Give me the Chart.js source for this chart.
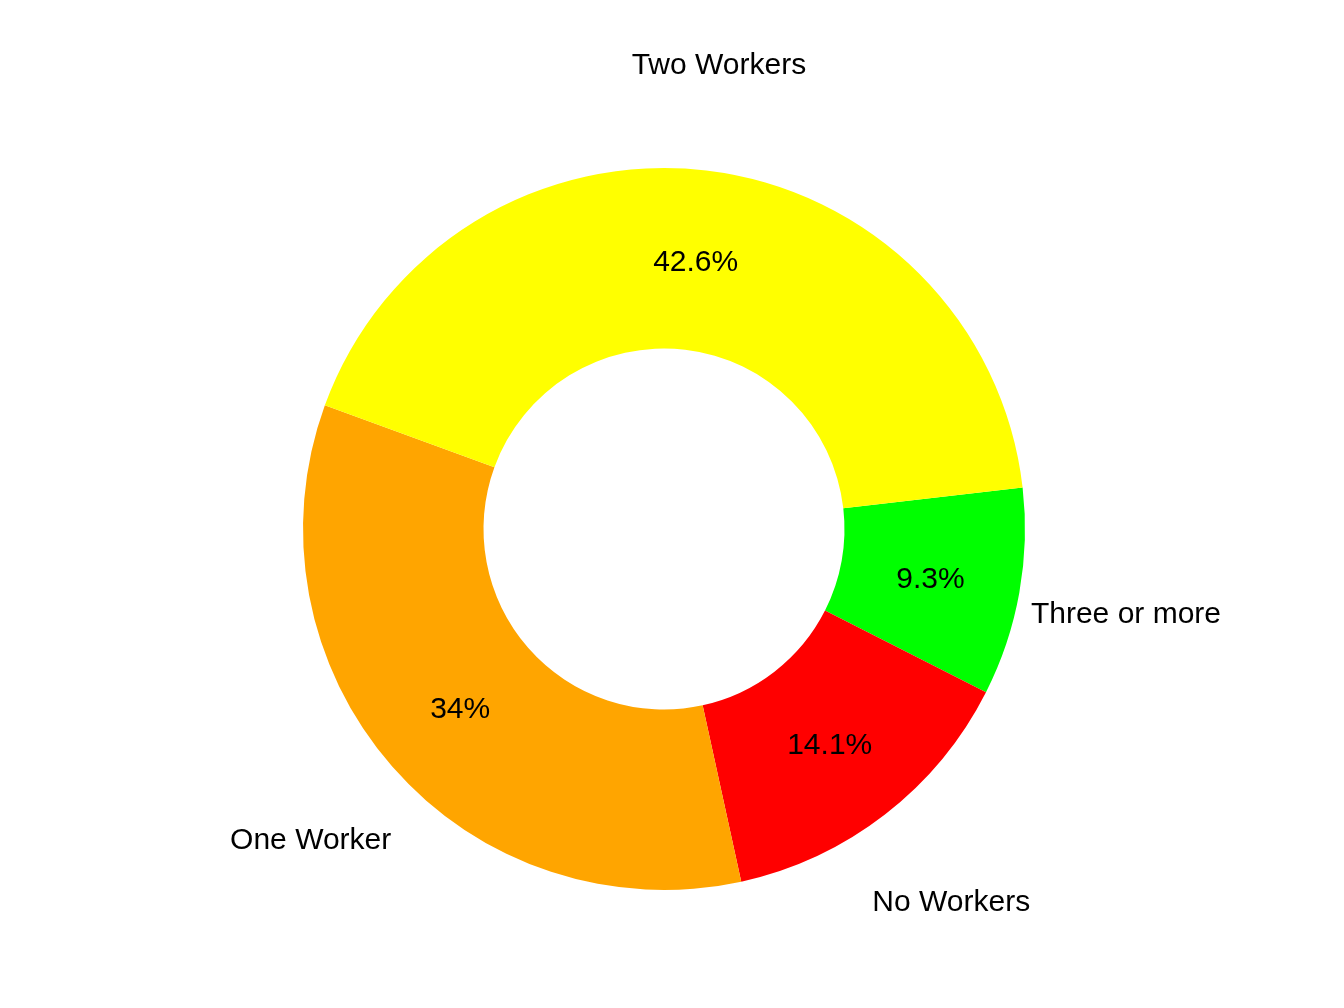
<!DOCTYPE html>
<html>
<head>
<meta charset="utf-8">
<script src="https://cdn.jsdelivr.net/npm/chart.js@4/dist/chart.umd.min.js"></script>
<style>
  html, body { margin: 0; padding: 0; background: #ffffff; }
  #wrap { width: 1344px; height: 1008px; }
</style>
</head>
<body>
<div id="wrap"><canvas id="chart" width="1344" height="1008"></canvas></div>
<script>
// data, clockwise from the green slice
const categories = ['Three or more', 'No Workers', 'One Worker', 'Two Workers'];
const shares = [9.3, 14.1, 34, 42.6];
const pctLabels = ['9.3%', '14.1%', '34%', '42.6%'];
const sliceColors = ['#00ff00', '#ff0000', '#ffa500', '#ffff00'];

// draws the percentage inside each slice and the category name outside it
const sliceLabels = {
    id: 'sliceLabels',
    afterDatasetsDraw(chart) {
        const ctx = chart.ctx;
        const meta = chart.getDatasetMeta(0);
        ctx.save();
        ctx.font = '30px "Liberation Sans", Arial, sans-serif';
        ctx.fillStyle = '#000000';
        ctx.textAlign = 'center';
        ctx.textBaseline = 'middle';
        meta.data.forEach((arc, i) => {
            const p = arc.getCenterPoint();
            ctx.fillText(pctLabels[i], p.x, p.y + 3);

            const mid = (arc.startAngle + arc.endAngle) / 2;
            const r = arc.outerRadius * 1.3;
            ctx.fillText(categories[i], arc.x + Math.cos(mid) * r, arc.y + Math.sin(mid) * r + 3);
        });
        ctx.restore();
    }
};

new Chart(document.getElementById('chart'), {
    type: 'doughnut',
    data: {
        labels: categories,
        datasets: [{
            data: shares,
            backgroundColor: sliceColors,
            borderWidth: 0,
            hoverOffset: 0
        }]
    },
    options: {
        responsive: false,
        animation: false,
        events: [],
        rotation: 83.4,
        radius: 361,
        cutout: '50%',
        layout: {
            padding: { top: 50, bottom: 0, left: 0, right: 16 }
        },
        plugins: {
            legend: { display: false },
            tooltip: { enabled: false }
        }
    },
    plugins: [sliceLabels]
});
</script>
</body>
</html>
